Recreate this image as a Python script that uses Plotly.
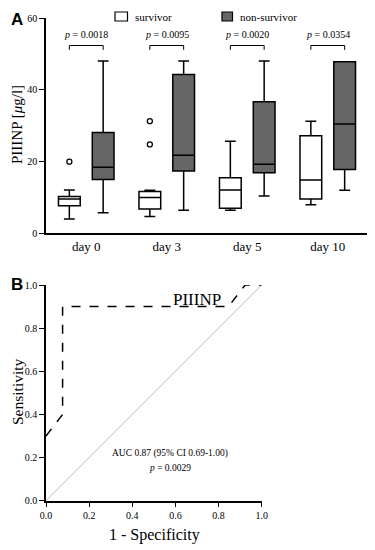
import plotly.graph_objects as go

# ---------------- data ----------------
days = ["day 0", "day 3", "day 5", "day 10"]

surv_low = [4.0, 4.7, 6.4, 8.0]
surv_q1 = [7.7, 6.8, 7.0, 9.6]
surv_med = [9.6, 10.0, 12.1, 14.9]
surv_q3 = [10.3, 11.7, 15.5, 27.2]
surv_high = [12.1, 12.0, 25.7, 31.3]

non_low = [5.7, 6.4, 10.4, 12.0]
non_q1 = [15.0, 17.4, 16.9, 17.8]
non_med = [18.4, 21.8, 19.3, 30.5]
non_q3 = [28.1, 44.3, 36.7, 47.9]
non_high = [48.1, 48.1, 48.1, 47.9]

outlier_day = [0, 1, 1]
outlier_val = [20.0, 31.3, 24.8]

p_values = ["0.0018", "0.0095", "0.0020", "0.0354"]

roc_fpr = [0.0, 1 / 13, 1 / 13, 11 / 13, 12 / 13, 1.0]
roc_tpr = [0.3, 0.4, 0.9, 0.9, 1.0, 1.0]

ticks_A = [0, 20, 40, 60]
ticks_B = [0.0, 0.2, 0.4, 0.6, 0.8, 1.0]

# ---------------- layout constants ----------------
W, H = 375, 550
OFF = 8  # page body margin
SERIF = "Liberation Serif"
off = 0.21
bw = 0.27
idx = list(range(len(days)))


def px(sx):
    return (sx - OFF) / W


def py(sy):
    return 1 - (sy - OFF) / H


fig = go.Figure()

fig.add_trace(go.Box(
    x=[i - off for i in idx], lowerfence=surv_low, q1=surv_q1, median=surv_med,
    q3=surv_q3, upperfence=surv_high, width=bw, whiskerwidth=0.5,
    fillcolor="white", line=dict(color="black", width=1.5),
    boxpoints=False, showlegend=False, xaxis="x", yaxis="y"))
fig.add_trace(go.Box(
    x=[i + off for i in idx], lowerfence=non_low, q1=non_q1, median=non_med,
    q3=non_q3, upperfence=non_high, width=bw, whiskerwidth=0.5,
    fillcolor="#666666", line=dict(color="black", width=1.5),
    boxpoints=False, showlegend=False, xaxis="x", yaxis="y"))
fig.add_trace(go.Scatter(
    x=[d - off for d in outlier_day], y=outlier_val, mode="markers",
    marker=dict(symbol="circle-open", size=5, color="black", line=dict(width=1.3)),
    showlegend=False, xaxis="x", yaxis="y"))

# significance brackets
for i, p in enumerate(p_values):
    fig.add_trace(go.Scatter(
        x=[i - off, i - off, i + off, i + off], y=[51.2, 52.4, 52.4, 51.2],
        mode="lines", line=dict(color="black", width=1), showlegend=False,
        hoverinfo="skip", xaxis="x", yaxis="y"))
    fig.add_annotation(x=i, y=55.5, xref="x", yref="y", showarrow=False,
                       xanchor="center", yanchor="middle",
                       text="<i>p</i> = " + p, font=dict(family=SERIF, size=10, color="black"))

# ROC
fig.add_trace(go.Scatter(x=[0, 1], y=[0, 1], mode="lines",
                         line=dict(color="#aaaaaa", width=0.8), showlegend=False,
                         xaxis="x2", yaxis="y2"))
fig.add_trace(go.Scatter(x=roc_fpr, y=roc_tpr, mode="lines",
                         line=dict(color="black", width=1.5, dash="dash"),
                         showlegend=False, xaxis="x2", yaxis="y2"))


def axis(**kw):
    d = dict(showline=True, linecolor="black", linewidth=1.5, ticks="outside",
             ticklen=5, tickwidth=1.2, tickcolor="black", showgrid=False,
             zeroline=False, automargin=False,
             tickfont=dict(family=SERIF, size=10, color="black"))
    d.update(kw)
    return d


fig.update_layout(
    template="none",
    width=W, height=H, margin=dict(l=0, r=0, t=0, b=0, pad=0, autoexpand=False),
    plot_bgcolor="white", paper_bgcolor="white", showlegend=False,
    xaxis=axis(domain=[px(46), px(368)], range=[-0.5, 3.5], anchor="y",
               tickvals=idx, ticktext=days, ticks="",
               tickfont=dict(family=SERIF, size=13, color="black")),
    yaxis=axis(domain=[py(233.3), py(18.3)], range=[0, 60], anchor="x",
               tickvals=ticks_A),
    xaxis2=axis(domain=[px(46), px(261.7)], range=[0, 1], anchor="y2",
                tickvals=ticks_B, tickformat=".1f"),
    yaxis2=axis(domain=[py(500.7), py(285)], range=[0, 1], anchor="x2",
                tickvals=ticks_B, tickformat=".1f"),
)


def note(sx, sy, text, size, family=SERIF, angle=0, xanchor="center"):
    fig.add_annotation(x=px(sx), y=py(sy), xref="paper", yref="paper", showarrow=False,
                       xanchor=xanchor, yanchor="middle", textangle=angle, text=text,
                       font=dict(family=family, size=size, color="black"))


# legend (drawn as shapes + text)
fig.add_shape(type="rect", xref="paper", yref="paper",
              x0=px(115), x1=px(127.5), y0=py(21), y1=py(12),
              fillcolor="white", line=dict(color="black", width=1.2))
note(133, 16.5, "survivor", 11, xanchor="left")
fig.add_shape(type="rect", xref="paper", yref="paper",
              x0=px(222), x1=px(232.5), y0=py(21), y1=py(12),
              fillcolor="#666666", line=dict(color="black", width=1.2))
note(238, 16.5, "non-survivor", 11, xanchor="left")

# panel letters
note(8.5, 19, "<b>A</b>", 17, family="Liberation Sans", xanchor="left")
note(8.5, 284, "<b>B</b>", 17, family="Liberation Sans", xanchor="left")

# axis titles
note(17, 125, "PIIINP [<i>μ</i>g/l]", 15, angle=-90)
note(17, 392, "Sensitivity", 15.5, angle=-90)
note(154, 535, "1 - Specificity", 16)

# ROC annotations
fig.add_annotation(x=0.70, y=0.935, xref="x2", yref="y2", showarrow=False,
                   xanchor="center", yanchor="middle",
                   text="PIIINP", font=dict(family=SERIF, size=17, color="black"))
fig.add_annotation(x=0.575, y=0.22, xref="x2", yref="y2", showarrow=False,
                   xanchor="center", yanchor="middle",
                   text="AUC 0.87 (95% CI 0.69-1.00)", font=dict(family=SERIF, size=9.5, color="black"))
fig.add_annotation(x=0.575, y=0.153, xref="x2", yref="y2", showarrow=False,
                   xanchor="center", yanchor="middle",
                   text="<i>p</i> = 0.0029", font=dict(family=SERIF, size=9.5, color="black"))

fig.write_html("out.html")
